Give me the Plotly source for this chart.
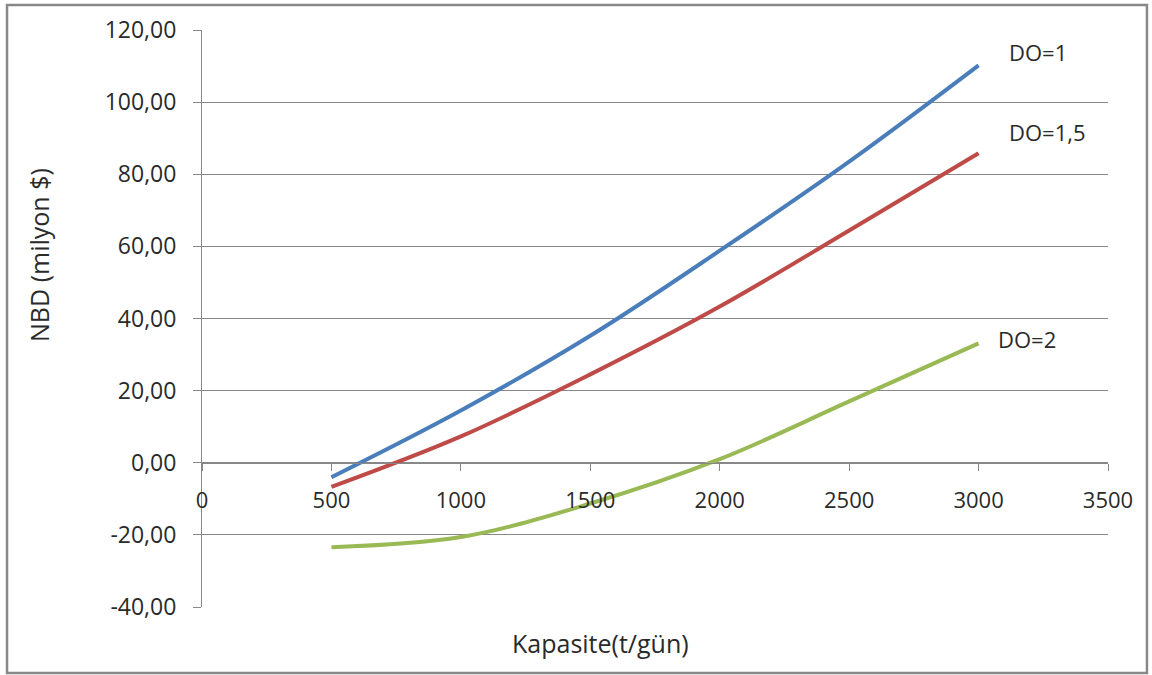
import plotly.graph_objects as go

# Capacity (t/day) and NPV (million $) for three DO values
kapasite = [500, 1000, 1500, 2000, 2500, 3000]
nbd_do1 = [-4.0, 14.5, 35.2, 58.8, 83.5, 110.2]
nbd_do15 = [-6.7, 7.3, 24.5, 43.3, 64.4, 85.8]
nbd_do2 = [-23.4, -20.6, -11.3, 1.0, 17.0, 33.1]

series_names = ["DO=1", "DO=1,5", "DO=2"]
series_colors = ["#4A7EBB", "#BE4B48", "#98B954"]
label_pos = [(3110, 113.8), (3110, 91.6), (3068, 34.2)]

# Y tick values and their labels (comma decimals, plain hyphen minus)
y_ticks = [-40, -20, 0, 20, 40, 60, 80, 100, 120]
y_tick_labels = ["-40,00", "-20,00", "0,00", "20,00", "40,00", "60,00", "80,00", "100,00", "120,00"]

FONT = "Open Sans"
TXT = "#2a2a2a"
GRAY = "#888888"

fig = go.Figure()
for name, vals, col in zip(series_names, [nbd_do1, nbd_do15, nbd_do2], series_colors):
    fig.add_trace(go.Scatter(
        x=kapasite, y=vals, mode="lines", name=name,
        line=dict(color=col, width=4, shape="spline", smoothing=1.0),
        showlegend=False,
    ))

for name, (lx, ly) in zip(series_names, label_pos):
    fig.add_annotation(x=lx, y=ly, xref="x", yref="y", text=name, showarrow=False,
                       xanchor="left", yanchor="middle",
                       font=dict(family=FONT, size=22, color=TXT))

# Axis titles
fig.add_annotation(x=-0.18, y=0.61, xref="paper", yref="paper", text="NBD (milyon $)",
                   textangle=-90, showarrow=False, xanchor="center", yanchor="middle",
                   font=dict(family=FONT, size=25, color=TXT))
fig.add_annotation(x=0.4393, y=-0.0624, xref="paper", yref="paper", text="Kapasite(t/gün)",
                   showarrow=False, xanchor="center", yanchor="middle",
                   font=dict(family=FONT, size=25, color=TXT))

# Outer chart border
fig.add_shape(type="rect", xref="paper", yref="paper",
              x0=-0.2152, x1=1.0430, y0=-0.1144, y1=1.0433,
              line=dict(color=GRAY, width=2.5), fillcolor="rgba(0,0,0,0)", layer="below")

fig.update_layout(
    width=1152, height=675,
    margin=dict(l=202, r=44, t=30, b=68),
    paper_bgcolor="white", plot_bgcolor="white",
    font=dict(family=FONT, size=22, color=TXT),
    xaxis=dict(
        range=[0, 3500], dtick=500, tick0=0, tickformat="d",
        anchor="free", position=0.25,
        showgrid=False, zeroline=False,
        showline=True, linecolor=GRAY, linewidth=1,
        ticks="outside", ticklen=7, tickcolor=GRAY, tickwidth=1,
        ticklabelstandoff=11,
        tickfont=dict(family=FONT, size=22, color=TXT),
    ),
    yaxis=dict(
        range=[-40, 120], tickmode="array", tickvals=y_ticks, ticktext=y_tick_labels,
        showgrid=True, gridcolor=GRAY, gridwidth=1, zeroline=False,
        showline=True, linecolor=GRAY, linewidth=1,
        ticks="outside", ticklen=8, tickcolor=GRAY, tickwidth=1,
        ticklabelstandoff=12,
        tickfont=dict(family=FONT, size=23, color=TXT),
    ),
)

fig.write_html("out.html")
